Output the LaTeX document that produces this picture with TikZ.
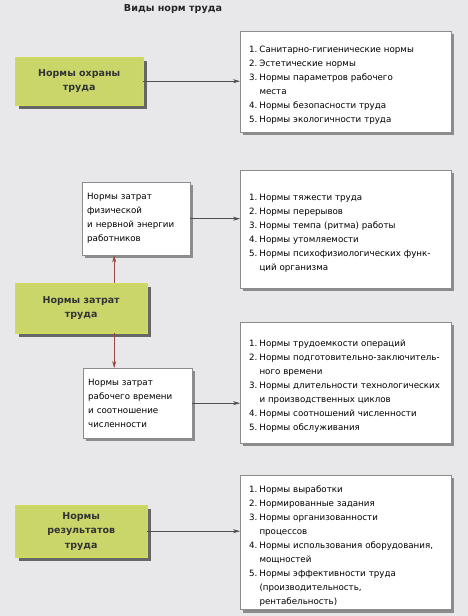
\documentclass[tikz,border=0pt]{standalone}
\usepackage{fontspec}
\setmainfont{DejaVu Sans}
\usetikzlibrary{positioning, arrows.meta, shadows}

\definecolor{pagegray}{RGB}{232,232,234}
\definecolor{normgreen}{RGB}{202,214,106}
\definecolor{arrowred}{RGB}{150,72,62}
\definecolor{linegray}{RGB}{80,80,84}

\newlength{\numw}\setlength{\numw}{10.3pt}
\newcommand{\nitem}[2]{\par\noindent\makebox[\numw][l]{#1.}\mbox{#2}}
\newcommand{\ncont}[1]{\par\noindent\hspace*{\numw}\mbox{#1}}

\begin{document}
\begin{tikzpicture}[x=1pt, y=-1pt,
        % Style for the green main boxes
        greenbox/.style={
            fill=normgreen,
            draw=normgreen!85!yellow,
            anchor=north west,
            align=center,
            text=black!80,
            font=\fontsize{9.5}{14.5}\selectfont\bfseries,
            drop shadow={shadow xshift=4pt, shadow yshift=-4pt, fill=black!60, opacity=1}
        },
        % Style for the white boxes
        whitebox/.style={
            fill=white,
            draw=black!45,
            line width=0.4pt,
            anchor=north west,
            align=left,
            inner xsep=5pt,
            font=\fontsize{8.7}{14}\selectfont,
            drop shadow={shadow xshift=3pt, shadow yshift=-3pt, fill=black!45, opacity=1}
        },
        % Style for the lists
        listbox/.style={
            whitebox,
            inner xsep=9pt,
            text width=193pt
        },
        % Style for the connectors
        norm_arrow/.style={
            -{Stealth[length=7pt, width=4pt]},
            draw=linegray,
            line width=0.6pt
        },
        up_arrow/.style={
            norm_arrow,
            draw=arrowred
        }
    ]

    \useasboundingbox[fill=pagegray] (0,0) rectangle (468,616);

    % ==========================================
    % TITLE
    % ==========================================
    \node[font=\fontsize{9.6}{12}\selectfont\bfseries, text=black!85] (title) at (173,9) {Виды норм труда};

    % ==========================================
    % MAIN BOXES
    % ==========================================
    \node[greenbox, minimum width=128pt, minimum height=48pt] (ohr) at (15,57) {Нормы охраны\\труда};
    \node[greenbox, minimum width=132pt, minimum height=50pt] (zat) at (15,283) {Нормы затрат\\труда};
    \node[greenbox, minimum width=132pt, minimum height=52pt] (res) at (15,505) {Нормы\\результатов\\труда};

    \node[whitebox, text width=98pt, minimum width=108pt, minimum height=73pt] (fiz) at (82,182)
        {Нормы затрат\\физической\\и нервной энергии\\работников};
    \node[whitebox, text width=99pt, minimum width=109pt, minimum height=70pt] (vrem) at (83,368)
        {Нормы затрат\\рабочего времени\\и соотношение\\численности};

    % ==========================================
    % LISTS
    % ==========================================
    \node[listbox, minimum height=101pt] (list1) at (240,31) {%
        \nitem{1}{Санитарно-гигиенические нормы}
        \nitem{2}{Эстетические нормы}
        \nitem{3}{Нормы параметров рабочего}
        \ncont{места}
        \nitem{4}{Нормы безопасности труда}
        \nitem{5}{Нормы экологичности труда}};
    \node[listbox, minimum height=118pt] (list2) at (240,170) {%
        \nitem{1}{Нормы тяжести труда}
        \nitem{2}{Нормы перерывов}
        \nitem{3}{Нормы темпа (ритма) работы}
        \nitem{4}{Нормы утомляемости}
        \nitem{5}{Нормы психофизиологических функ-}
        \ncont{ций организма}};
    \node[listbox, minimum height=121pt] (list3) at (240,322) {%
        \nitem{1}{Нормы трудоемкости операций}
        \nitem{2}{Нормы подготовительно-заключитель-}
        \ncont{ного времени}
        \nitem{3}{Нормы длительности технологических}
        \ncont{и производственных циклов}
        \nitem{4}{Нормы соотношений численности}
        \nitem{5}{Нормы обслуживания}};
    \node[listbox, minimum height=132pt] (list4) at (240,475) {%
        \nitem{1}{Нормы выработки}
        \nitem{2}{Нормированные задания}
        \nitem{3}{Нормы организованности}
        \ncont{процессов}
        \nitem{4}{Нормы использования оборудования,}
        \ncont{мощностей}
        \nitem{5}{Нормы эффективности труда}
        \ncont{(производительность,}
        \ncont{рентабельность)}};

    % Horizontal connectors
    \draw[norm_arrow] (ohr.east) -- (ohr.east -| list1.west);
    \draw[norm_arrow] (fiz.east) -- (fiz.east -| list2.west);
    \draw[norm_arrow] (vrem.east) -- (vrem.east -| list3.west);
    \draw[norm_arrow] (res.east) -- (res.east -| list4.west);

    % Vertical connectors
    \draw[up_arrow] ([xshift=33pt]zat.north) -- ([xshift=33pt]zat.north |- fiz.south);
    \draw[up_arrow] ([xshift=33pt]zat.south) -- ([xshift=33pt]zat.south |- vrem.north);

\end{tikzpicture}
\end{document}
